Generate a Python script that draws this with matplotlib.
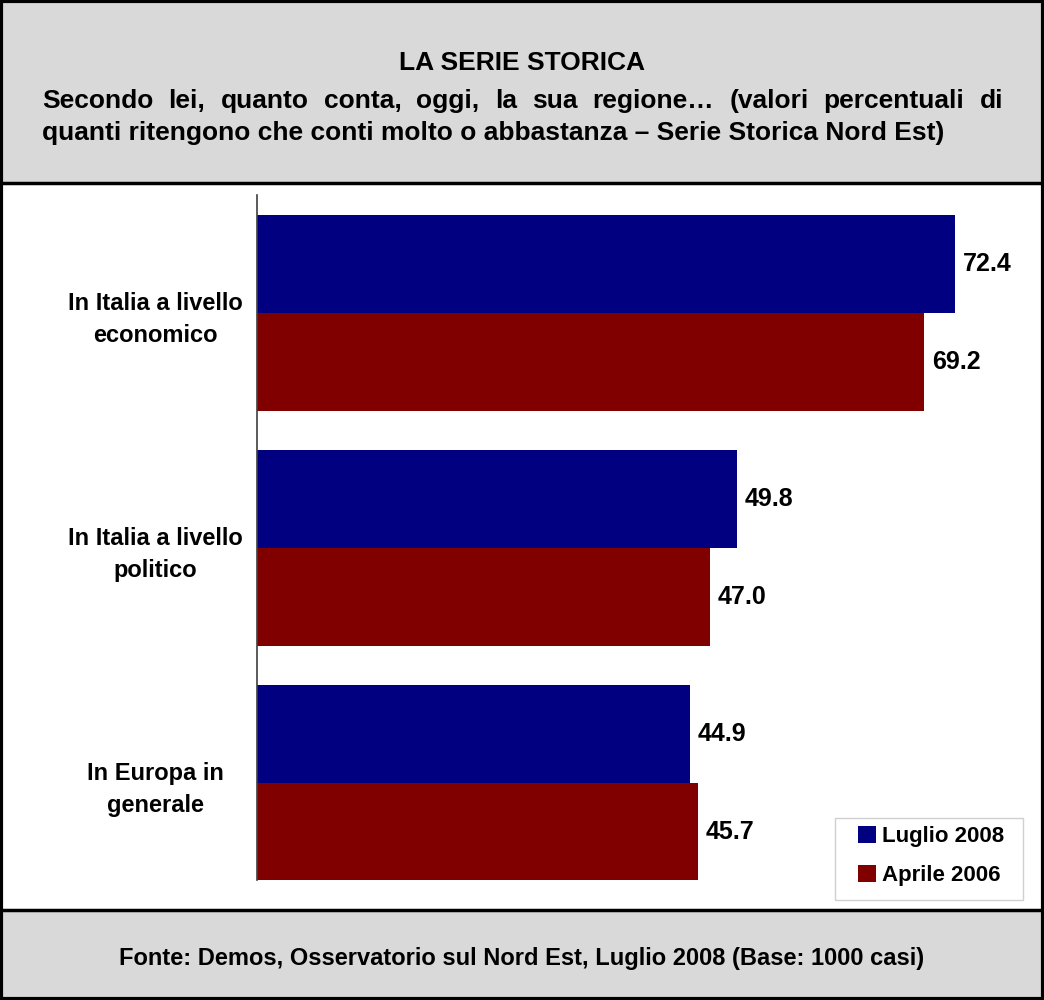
import matplotlib
matplotlib.use("Agg")
import matplotlib.pyplot as plt
from matplotlib.patches import Rectangle
import numpy as np

plt.rcParams['font.family'] = ['Liberation Sans', 'DejaVu Sans']

categories = ['In Italia a livello\neconomico', 'In Italia a livello\npolitico', 'In Europa in\ngenerale']
luglio_2008 = [72.4, 49.8, 44.9]
aprile_2006 = [69.2, 47.0, 45.7]
series_names = ['Luglio 2008', 'Aprile 2006']

title = 'LA SERIE STORICA'
subtitle_1 = 'Secondo lei, quanto conta, oggi, la sua regione\u2026 (valori percentuali di'
subtitle_2 = 'quanti ritengono che conti molto o abbastanza \u2013 Serie Storica Nord Est)'
footer = 'Fonte: Demos, Osservatorio sul Nord Est, Luglio 2008 (Base: 1000 casi)'

blue = '#000080'
red = '#800000'
grey = '#d9d9d9'

W, H = 1044, 1000
fig = plt.figure(figsize=(W / 100, H / 100), dpi=100)
fig.patch.set_facecolor('white')

def fy(px):  # pixel from top -> figure fraction
    return 1 - px / H

# header / footer panels
fig.patches.append(Rectangle((0, fy(183)), 1, 183 / H, transform=fig.transFigure,
                             facecolor=grey, edgecolor='none', zorder=0))
fig.patches.append(Rectangle((0, 0), 1, 90 / H, transform=fig.transFigure,
                             facecolor=grey, edgecolor='none', zorder=0))
for ypx in (183, 910):
    fig.add_artist(plt.Line2D([0, 1], [fy(ypx), fy(ypx)], transform=fig.transFigure,
                              color='black', lw=2.5))
fig.patches.append(Rectangle((0.001, 0.001), 0.998, 0.998, transform=fig.transFigure,
                             facecolor='none', edgecolor='black', lw=3, zorder=5))

fig.text(0.5, fy(63), title, ha='center', va='center', fontsize=19, fontweight='bold')

# justified first subtitle line
renderer = fig.canvas.get_renderer()
words = subtitle_1.split(' ')
left, right = 42, 1003
txts = [fig.text(0, fy(101), w, ha='left', va='center', fontsize=19, fontweight='bold') for w in words]
widths = [t.get_window_extent(renderer).width for t in txts]
gap = (right - left - sum(widths)) / (len(words) - 1)
x = left
for t, w in zip(txts, widths):
    t.set_x(x / W)
    x += w + gap
fig.text(left / W, fy(133), subtitle_2, ha='left', va='center', fontsize=19, fontweight='bold')

fig.text(0.5, fy(958), footer, ha='center', va='center', fontsize=17, fontweight='bold')

# bars
ax_left, ax_right, ax_top, ax_bot = 257, 1030, 195, 880
ax = fig.add_axes([ax_left / W, fy(ax_bot), (ax_right - ax_left) / W, (ax_bot - ax_top) / H])
ax.set_facecolor('none')
scale = (955 - 257) / 72.4
ax.set_xlim(0, (ax_right - ax_left) / scale)
ax.set_ylim(2.413, -0.502)

y = np.arange(len(categories))
h = 0.417
b1 = ax.barh(y - h / 2, luglio_2008, height=h, color=blue, label=series_names[0])
b2 = ax.barh(y + h / 2, aprile_2006, height=h, color=red, label=series_names[1])

for bars, vals in ((b1, luglio_2008), (b2, aprile_2006)):
    for bar, v in zip(bars, vals):
        ax.text(v + 0.8, bar.get_y() + bar.get_height() / 2, f'{v:.1f}',
                ha='left', va='center', fontsize=18, fontweight='bold')

ax.set_yticks(y)
ax.set_yticklabels(categories, fontsize=17, fontweight='bold', ha='center', linespacing=1.45)
ax.tick_params(axis='y', length=0, pad=73)
ax.set_xticks([])
for s in ('top', 'right', 'bottom'):
    ax.spines[s].set_visible(False)
ax.spines['left'].set_color('#404040')
ax.spines['left'].set_linewidth(1.2)

# legend: frame drawn separately (wider side padding than top/bottom)
fig.patches.append(Rectangle((835 / W, fy(900)), (1023 - 835) / W, 82 / H, transform=fig.transFigure,
                             facecolor='white', edgecolor='#d0d0d0', lw=1, zorder=3))
leg = fig.legend(handles=[b1, b2], labels=series_names,
                 loc='upper left', bbox_to_anchor=(858 / W, fy(826)), bbox_transform=fig.transFigure,
                 prop={'weight': 'bold', 'size': 16}, frameon=False,
                 handlelength=0.8, handleheight=0.8, handletextpad=0.3, labelspacing=0.78,
                 borderpad=0, borderaxespad=0)
leg.set_zorder(6)

fig.savefig('out.png', dpi=100)
